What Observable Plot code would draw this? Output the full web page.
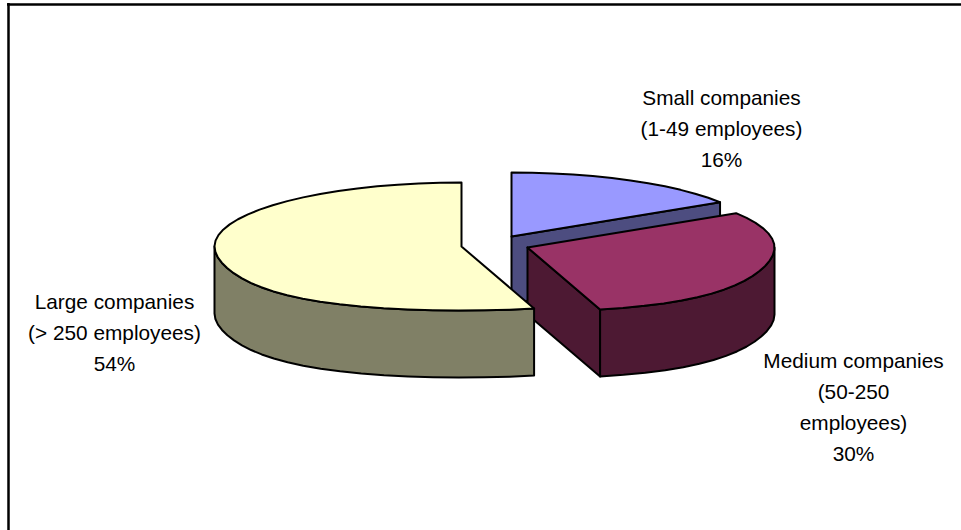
<!DOCTYPE html>
<html>
<head>
<meta charset="utf-8">
<style>
  html, body { margin: 0; padding: 0; background: #fff; }
  svg { display: block; }
</style>
<script src="https://cdn.jsdelivr.net/npm/d3@7"></script>
<script src="https://cdn.jsdelivr.net/npm/@observablehq/plot@0.6"></script>
</head>
<body>
<script>
// Share of companies by size, in percent
const segments = ["small", "medium", "large"];
const shares = [16, 30, 54];
const labels = [
  "Small companies\n(1-49 employees)\n16%",
  "Medium companies\n(50-250\nemployees)\n30%",
  "Large companies\n(> 250 employees)\n54%"
];
const topColors = ["#9999ff", "#993366", "#ffffcc"];
const wallColors = ["#4d4d80", "#4d1933", "#808066"];

// Disc layout: each exploded slice has its own hub
const hubX = [511, 527, 461];
const hubY = [236, 247, 246];
const labelX = [721, 853, 114];
const labelY = [126, 404, 330];
const radiusX = 247;
const radiusY = 64;
const depth = 67;
const nearStretch = 0.2;

const width = 961;
const height = 530;

const arcs = d3.pie().sort(null).startAngle(0).endAngle(2 * Math.PI)(shares);

// Oblique view of the disc: angle 0 is straight back, the front rim widens a little
function rim(i, angle, drop = 0) {
  const front = Math.max(0, -Math.cos(angle));
  return {
    x: hubX[i] + radiusX * Math.sin(angle) * (1 + nearStretch * front ** 3),
    y: hubY[i] - radiusY * Math.cos(angle) + drop
  };
}
const hub = (i, drop = 0) => ({x: hubX[i], y: hubY[i] + drop});

function sweep(a0, a1) {
  const n = Math.max(1, Math.round(Math.abs(a1 - a0) / (Math.PI / 36)));
  return d3.range(n + 1).map((k) => a0 + (a1 - a0) * k / n);
}

const topFace = (i) => {
  const {startAngle: a0, endAngle: a1} = arcs[i];
  const points = [hub(i), ...sweep(a0, a1).map((a) => rim(i, a))];
  return [...points, points[0]];
};

// Straight cut face running from the hub out to the rim at the given angle
const cutFace = (i, angle) => [
  hub(i), rim(i, angle), rim(i, angle, depth), hub(i, depth), hub(i)
];

// Visible stretch of the curved outer wall, between a0 and a1
const outerWall = (i, a0, a1) => {
  const angles = sweep(a0, a1);
  const points = [
    ...angles.map((a) => rim(i, a)),
    ...angles.slice().reverse().map((a) => rim(i, a, depth))
  ];
  return [...points, points[0]];
};

const polygon = (points, fill) =>
  Plot.line(points, {x: "x", y: "y", fill, stroke: "#000", strokeWidth: 2});

const [small, medium, large] = segments.map((_, i) => i);

const chart = Plot.plot({
  width,
  height,
  margin: 0,
  x: {domain: [0, width], range: [0, width], axis: null},
  y: {domain: [0, height], range: [0, height], axis: null},
  style: {background: "#fff"},
  marks: [
    // Outer border
    Plot.ruleY([4], {x1: 7, x2: width, stroke: "#000", strokeWidth: 2.5}),
    Plot.ruleX([8], {y1: 3, y2: height, stroke: "#000", strokeWidth: 2.5}),

    // Slices, back to front
    polygon(cutFace(small, arcs[small].endAngle), wallColors[small]),
    polygon(topFace(small), topColors[small]),

    polygon(cutFace(medium, arcs[medium].endAngle), wallColors[medium]),
    polygon(outerWall(medium, Math.PI / 2, arcs[medium].endAngle), wallColors[medium]),
    polygon(topFace(medium), topColors[medium]),

    polygon(outerWall(large, arcs[large].startAngle, 1.5 * Math.PI), wallColors[large]),
    polygon(topFace(large), topColors[large]),

    Plot.text(labels, {
      x: (_, i) => labelX[i],
      y: (_, i) => labelY[i],
      text: (d) => d,
      fontSize: 20.8,
      lineHeight: 1.49,
      fontFamily: "Liberation Sans",
      fill: "#000",
      textAnchor: "middle"
    })
  ]
});
document.body.append(chart);
</script>
</body>
</html>
